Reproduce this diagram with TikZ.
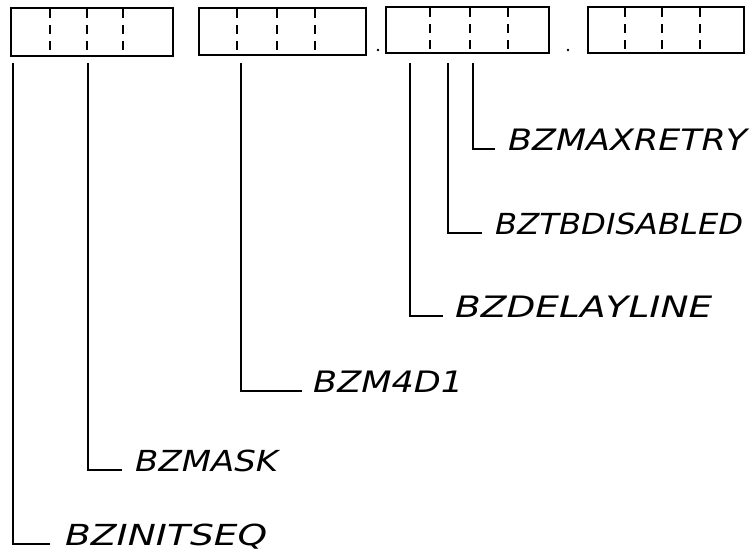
\documentclass[tikz,border=0pt]{standalone}
\usepackage{fontspec}
\usepackage{graphicx}
\newfontfamily\handfont{DejaVu Sans}
\newcommand\lbl[2]{\resizebox{#1pt}{21.5pt}{\handfont\itshape #2}}
\begin{document}
\begin{tikzpicture}[x=1pt,y=-1pt,
  regbox/.style={draw, line width=2pt, inner sep=0pt, anchor=north west},
  divline/.style={line width=2.2pt, dash pattern=on 9pt off 7pt, dash phase=-2pt},
  conn/.style={line width=2pt},
  tag/.style={inner sep=0pt, anchor=base west}]
\useasboundingbox (0,0) rectangle (755,555);
% register boxes
\node[regbox, minimum width=162pt, minimum height=48pt] (r1) at (10,7) {};
\node[regbox, minimum width=167pt, minimum height=47pt] (r2) at (198,7) {};
\node[regbox, minimum width=163pt, minimum height=46pt] (r3) at (385,6) {};
\node[regbox, minimum width=156pt, minimum height=46pt] (r4) at (587,6) {};
% nibble dividers
\foreach \b/\d in {r1/40, r1/77, r1/113, r2/39, r2/79, r2/117, r3/45, r3/85, r3/123, r4/38, r4/75, r4/113}
  \draw[divline] ([xshift=\d pt]\b.north west) -- ([xshift=\d pt]\b.south west);
\fill (378,50) circle (1.4pt);
\fill (568,50) circle (1.4pt);
% labels
\node[tag] (l1) at (65,545) {\lbl{202}{BZINITSEQ}};
\node[tag] (l2) at (135,471) {\lbl{143}{BZMASK}};
\node[tag] (l3) at (313,392) {\lbl{150}{BZM4D1}};
\node[tag] (l4) at (455,317) {\lbl{257}{BZDELAYLINE}};
\node[tag] (l5) at (495,234) {\lbl{248}{BZTBDISABLED}};
\node[tag] (l6) at (508,150) {\lbl{239}{BZMAXRETRY}};
% connector starts
\coordinate (s1) at (13,63);
\coordinate (s2) at (88,63);
\coordinate (s3) at (241,63);
\coordinate (s4) at (410,63);
\coordinate (s5) at (448,63);
\coordinate (s6) at (473,63);
% connectors
\draw[conn] (s1) |- ([xshift=-15pt,yshift=1pt]l1.base west);
\draw[conn] (s2) |- ([xshift=-13pt,yshift=1pt]l2.base west);
\draw[conn] (s3) |- ([xshift=-11pt,yshift=1pt]l3.base west);
\draw[conn] (s4) |- ([xshift=-12pt,yshift=1pt]l4.base west);
\draw[conn] (s5) |- ([xshift=-13pt,yshift=1pt]l5.base west);
\draw[conn] (s6) |- ([xshift=-13pt,yshift=1pt]l6.base west);
\end{tikzpicture}
\end{document}
